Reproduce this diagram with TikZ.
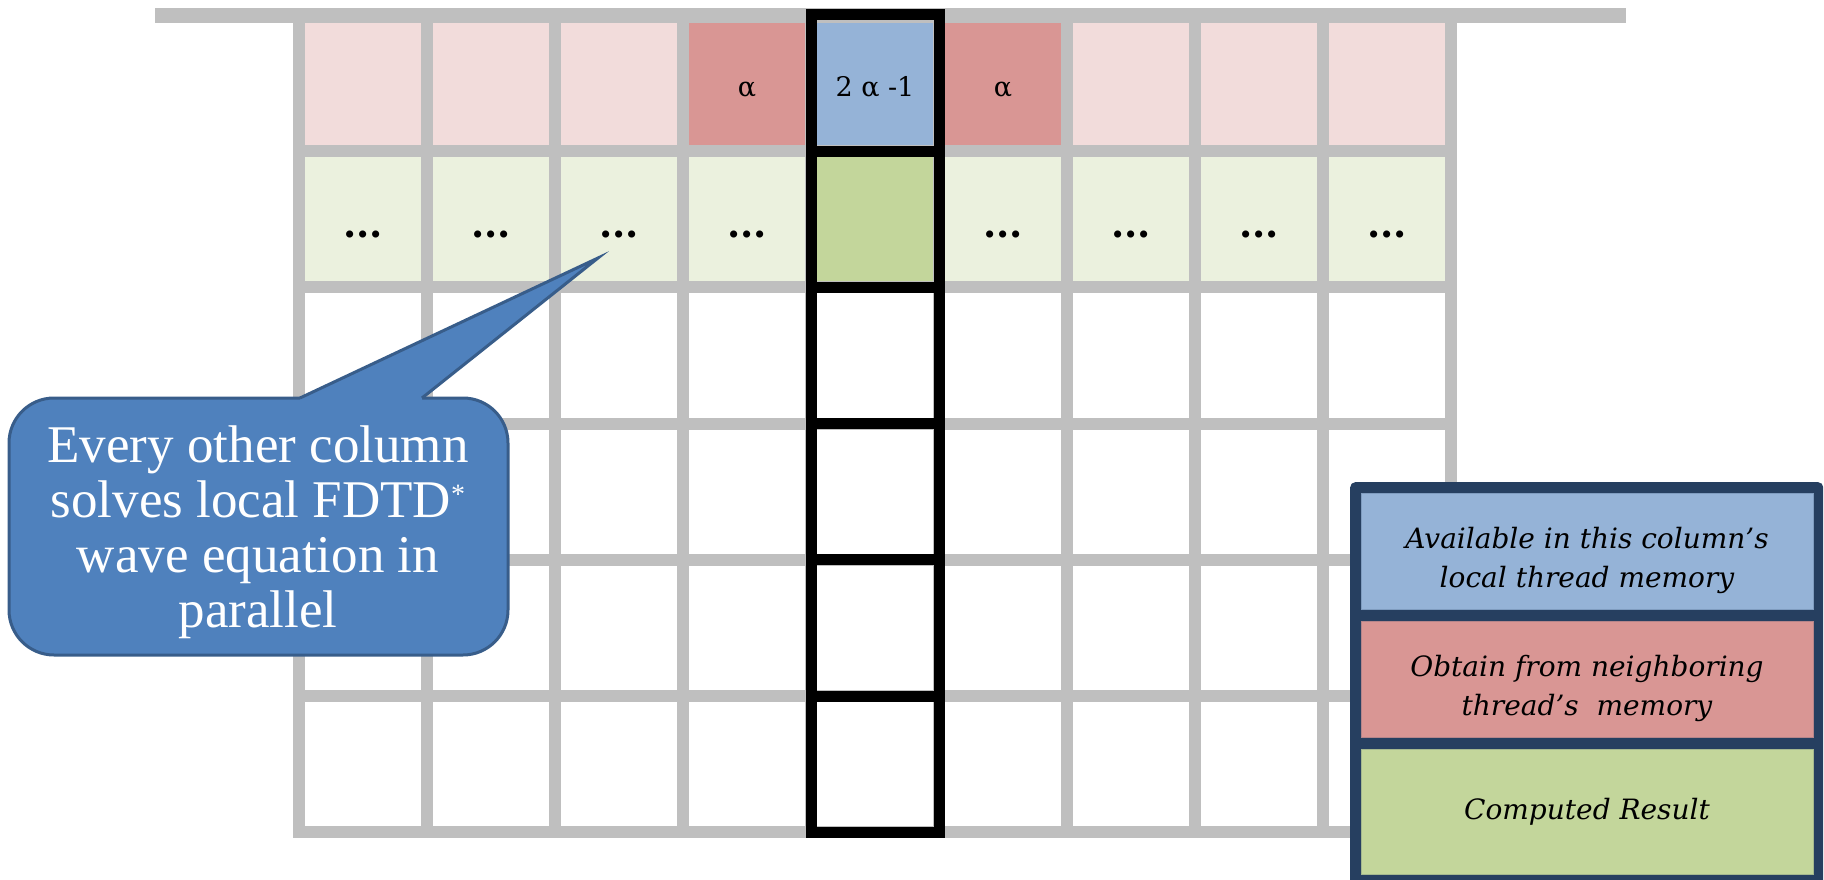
\documentclass[tikz,border=0pt]{standalone}
\usepackage{fontspec}
\setmainfont{Liberation Serif}
\newfontfamily\geo{DejaVu Serif}
\definecolor{gridgray}{HTML}{BFBFBF}
\definecolor{pinkl}{HTML}{F2DCDB}
\definecolor{redc}{HTML}{D99694}
\definecolor{bluec}{HTML}{95B3D7}
\definecolor{greenl}{HTML}{EBF1DE}
\definecolor{greenc}{HTML}{C3D69B}
\definecolor{callfill}{HTML}{4F81BD}
\definecolor{callline}{HTML}{385D8A}
\definecolor{navy}{HTML}{263F60}
\begin{document}
\begin{tikzpicture}[x=1pt,y=-1pt,
  cell/.style={draw=gridgray, line width=12pt, minimum width=128pt, minimum height=136.2pt, inner sep=0pt, outer sep=0pt},
  blackcell/.style={draw=black, line width=11pt, minimum width=128pt, minimum height=136.2pt, inner sep=0pt, outer sep=0pt},
  celltext/.style={font=\geo\fontsize{27}{28}\selectfont, inner sep=0pt, anchor=base},
  dotstext/.style={font=\geo\bfseries\fontsize{38}{38}\selectfont, inner sep=0pt, anchor=base},
  panel/.style={minimum width=452pt, inner sep=0pt, outer sep=0pt, line width=1pt},
  legtext/.style={align=center, text=black, inner sep=0pt, font=\geo\itshape\fontsize{28}{39}\selectfont},
  calltext/.style={text=white, align=center, inner sep=0pt, font=\fontsize{53}{55}\selectfont}
]
\useasboundingbox (0,0) rectangle (1824,880);
% grid cells
\foreach \i in {1,...,6} {
  \foreach \j in {1,...,9} {
    \pgfmathsetmacro\cx{299+128*(\j-0.5)}
    \pgfmathsetmacro\cy{15+136.2*(\i-0.5)}
    \def\fc{white}
    \ifnum\i=1 \def\fc{pinkl}\ifnum\j=4 \def\fc{redc}\fi\ifnum\j=6 \def\fc{redc}\fi\ifnum\j=5 \def\fc{bluec}\fi\fi
    \ifnum\i=2 \def\fc{greenl}\ifnum\j=5 \def\fc{greenc}\fi\fi
    \node[cell, fill=\fc] (c-\i-\j) at (\cx,\cy) {};
  }
}
% top bar
\draw[gridgray, line width=15pt] (155,15.5) -- (1626,15.5);
% highlighted column
\foreach \i in {1,...,6} {
  \node[blackcell] (k-\i) at (c-\i-5) {};
}
% cell labels
\node[celltext] (a4) at ([yshift=-13pt]c-1-4.center) {α};
\node[celltext] (a5) at ([yshift=-13pt]c-1-5.center) {2 α -1};
\node[celltext] (a6) at ([yshift=-13pt]c-1-6.center) {α};
\foreach \j in {1,2,3,4,6,7,8,9} {
  \node[dotstext] (d-\j) at ([yshift=-18pt]c-2-\j.center) {...};
}
% callout
\draw[fill=callfill, draw=callline, line width=3pt, rounded corners=45pt] (9,398) rectangle (508,655);
\fill[callfill] (300,398) -- (598,258) -- (422,398) -- (422,402) -- (300,402) -- cycle;
\draw[callline, line width=3pt, line join=miter] (300,398) -- (598,258) -- (422,398);
\node[calltext] (callout) at (258,532) {Every other column\\solves local FDTD{\fontsize{28}{28}\selectfont\raisebox{14pt}{*}}\\wave equation in\\parallel};
% legend
\node[fill=navy, rounded corners=5pt, minimum width=473pt, minimum height=420pt, inner sep=0pt, anchor=north west] (legend) at (1350,482) {};
\node[panel, fill=bluec, draw=bluec!80!navy, minimum height=116pt] (lg-blue) at (1587,551) {};
\node[panel, fill=redc, draw=redc!80!navy, minimum height=116pt] (lg-red) at (1587,679) {};
\node[panel, fill=greenc, draw=greenc!80!navy, minimum height=125pt] (lg-green) at (1587,811.5) {};
\node[legtext] (t-blue) at ([yshift=-9pt]lg-blue.center) {Available in this column’s\\local thread memory};
\node[legtext] (t-red) at ([yshift=-9.5pt]lg-red.center) {Obtain from neighboring\\thread’s\ \ memory};
\node[legtext] (t-green) at (lg-green.center) {Computed Result};
\end{tikzpicture}
\end{document}
